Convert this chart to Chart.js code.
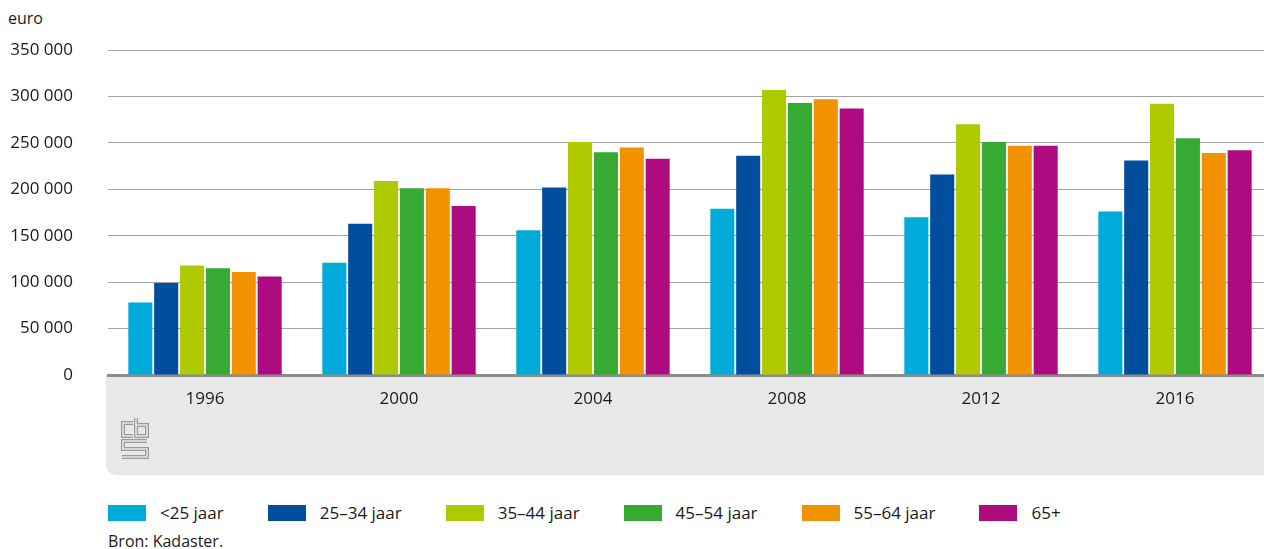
<!DOCTYPE html>
<html>
<head>
<meta charset="utf-8">
<script src="https://cdn.jsdelivr.net/npm/chart.js@4"></script>
<style>
  html, body { margin: 0; padding: 0; background: #fff; }
  body { width: 1264px; height: 549px; position: relative; overflow: hidden; font-family: "Open Sans", sans-serif; color: #1a1a1a; }
  #wrap { position: absolute; left: 0; top: 0; width: 1272px; height: 480px; }
  #unit { position: absolute; left: 8px; top: 7px; font-size: 16px; }
  #legend { position: absolute; left: 108px; top: 502px; display: flex; font-size: 17px; line-height: 22px; white-space: nowrap; }
  #legend .item { display: flex; align-items: center; margin-right: 44px; }
  #legend .box { width: 38px; height: 16px; margin-right: 14px; }
  #source { position: absolute; left: 108px; top: 530px; font-size: 16px; }
</style>
</head>
<body>
<div id="unit">euro</div>
<div id="wrap"><canvas id="chart" width="1272" height="480"></canvas></div>
<div id="legend"></div>
<div id="source">Bron: Kadaster.</div>
<script>
// Gemiddelde woningwaarde naar leeftijd, euro
const years = ['1996', '2000', '2004', '2008', '2012', '2016'];
const seriesNames = ['<25 jaar', '25–34 jaar', '35–44 jaar', '45–54 jaar', '55–64 jaar', '65+'];
const under25 = [78000, 121000, 156000, 179000, 170000, 176000];
const age25to34 = [99000, 163000, 202000, 236000, 216000, 231000];
const age35to44 = [118000, 209000, 251000, 307000, 270000, 292000];
const age45to54 = [115000, 201000, 240000, 293000, 251000, 255000];
const age55to64 = [111000, 201000, 245000, 297000, 247000, 239000];
const age65plus = [106000, 182000, 233000, 287000, 247000, 242000];
const yTicks = [0, 50000, 100000, 150000, 200000, 250000, 300000, 350000];

const colors = ['#00aad9', '#004e9d', '#afca00', '#37aa34', '#f39200', '#af0b80'];
const allSeries = [under25, age25to34, age35to44, age45to54, age55to64, age65plus];

// legend (html)
const legendEl = document.getElementById('legend');
seriesNames.forEach((name, i) => {
  const item = document.createElement('div');
  item.className = 'item';
  item.innerHTML = '<span class="box" style="background:' + colors[i] + '"></span><span></span>';
  item.lastChild.textContent = name;
  legendEl.appendChild(item);
});

function fmt(v) {
  return String(v).replace(/\B(?=(\d{3})+(?!\d))/g, ' ');
}

// grey panel under the x axis + cbs logo
const panelPlugin = {
  id: 'panel',
  beforeDraw(chart) {
    const ctx = chart.ctx;
    const area = chart.chartArea;
    const left = area.left - 2;
    const top = area.bottom;
    const bottom = 475;
    ctx.save();
    ctx.fillStyle = '#e8e8e8';
    ctx.beginPath();
    ctx.roundRect(left, top, chart.width - left, bottom - top, [0, 0, 0, 10]);
    ctx.fill();

    // cbs logo, roughly
    const lx = left + 16, ly = 418;
    const paths = [
      [[lx + 11, ly + 5], [lx + 1, ly + 5], [lx + 1, ly + 18], [lx + 11, ly + 18]],
      [[lx + 14, ly + 0], [lx + 14, ly + 18], [lx + 25, ly + 18], [lx + 25, ly + 7], [lx + 14, ly + 7]],
      [[lx + 25, ly + 23], [lx + 1, ly + 23], [lx + 1, ly + 31], [lx + 25, ly + 31], [lx + 25, ly + 39], [lx + 0, ly + 39]]
    ];
    ctx.lineJoin = 'miter';
    [[4, '#9a9a9a'], [1.5, '#e8e8e8']].forEach(([w, c]) => {
      ctx.lineWidth = w;
      ctx.strokeStyle = c;
      paths.forEach(p => {
        ctx.beginPath();
        p.forEach(([x, y], k) => k ? ctx.lineTo(x, y) : ctx.moveTo(x, y));
        ctx.stroke();
      });
    });
    ctx.restore();
  }
};

new Chart(document.getElementById('chart'), {
  type: 'bar',
  data: {
    labels: years,
    datasets: allSeries.map((data, i) => ({
      label: seriesNames[i],
      data: data,
      backgroundColor: colors[i],
      borderWidth: 0,
      categoryPercentage: 0.8,
      barPercentage: 0.93
    }))
  },
  options: {
    responsive: false,
    animation: false,
    layout: { padding: { top: 50, left: 0, right: 0, bottom: 0 } },
    plugins: {
      legend: { display: false },
      tooltip: { enabled: false }
    },
    scales: {
      x: {
        grid: { display: false, drawTicks: false },
        border: { display: true, color: '#8c8c8c', width: 3 },
        ticks: {
          padding: 14,
          color: '#1a1a1a',
          font: { family: 'Open Sans', size: 17 }
        },
        afterFit(scale) { scale.height = 105; }
      },
      y: {
        min: 0,
        max: 350000,
        afterBuildTicks(scale) { scale.ticks = yTicks.map(v => ({ value: v })); },
        grid: { color: '#a3a3a3', lineWidth: 1, drawTicks: false },
        border: { display: false },
        ticks: {
          padding: 35,
          color: '#1a1a1a',
          font: { family: 'Open Sans', size: 17 },
          callback: v => fmt(v)
        },
        afterFit(scale) { scale.width = 108; }
      }
    }
  },
  plugins: [panelPlugin]
});
</script>
</body>
</html>
